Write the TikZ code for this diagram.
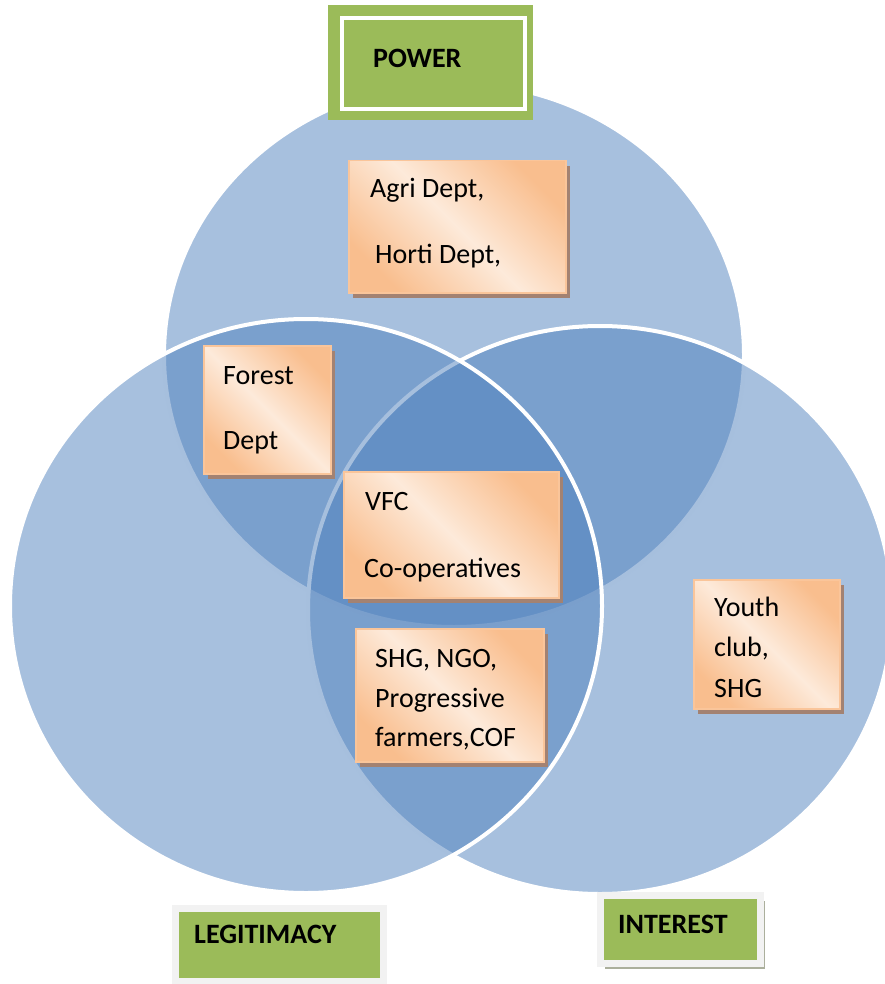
\documentclass[tikz,border=0pt]{standalone}
\usepackage{fontspec}
\setmainfont{Carlito}
\usetikzlibrary{shadows}
\definecolor{vblue}{HTML}{4F81BD}
\definecolor{ggreen}{HTML}{9BBB59}
\definecolor{gframe}{HTML}{F2F2F2}
\definecolor{oorange}{HTML}{F9BE8E}
\definecolor{olight}{HTML}{FDEADA}
\definecolor{oborder}{HTML}{FAC59A}
\definecolor{sbrown}{HTML}{A38272}
\definecolor{sgreen}{HTML}{ABAF9C}
\begin{document}
\begin{tikzpicture}[x=1pt,y=-1pt,
  venn/.style={fill=vblue, fill opacity=0.5, draw=white, draw opacity=1, line width=4pt},
  obox/.style={draw=oborder, line width=1.5pt, top color=oorange, bottom color=oorange, middle color=olight, shading angle=-45, anchor=north west, inner sep=0pt,
    drop shadow={shadow xshift=4pt, shadow yshift=-5pt, fill=sbrown, opacity=1}},
  gbox/.style={fill=ggreen, draw=gframe, line width=7pt, anchor=north west, inner sep=0pt,
    drop shadow={shadow xshift=4pt, shadow yshift=-5pt, fill=sgreen, opacity=1}},
  lbl/.style={font=\fontsize{28}{34}\selectfont, inner sep=0pt, anchor=base west, text=black},
  ttl/.style={font=\bfseries\fontsize{28}{34}\selectfont, inner sep=0pt, anchor=base west, text=black}
]
\useasboundingbox (0,0) rectangle (885,984);
% Venn ellipses
\path[venn] (454,355) ellipse [x radius=290, y radius=272];
\path[venn] (600,610) ellipse [x radius=292, y radius=284];
\path[venn] (306,606) ellipse [x radius=296, y radius=287];

% POWER
\node[fill=ggreen, anchor=north west, inner sep=0pt, minimum width=205pt, minimum height=115pt] (power) at (328,5) {};
\node[draw=white, line width=4.4pt, anchor=north west, inner sep=0pt, minimum width=183.5pt, minimum height=91pt] (powerframe) at (339.5,16) {};
\node[ttl] (powert) at (373,68) {POWER};

% LEGITIMACY
\node[gbox, minimum width=208pt, minimum height=73pt] (legit) at (171.5,904.5) {};
\node[ttl] (legitt) at (194,943) {LEGITIMACY};

% INTEREST
\node[gbox, minimum width=160pt, minimum height=68pt] (inter) at (597,892) {};
\node[ttl] (intert) at (618,933) {INTEREST};

% Agri / Horti
\node[obox, minimum width=217pt, minimum height=132pt] (agri) at (348,160) {};
\node[lbl] (agri1) at (370,198) {Agri Dept,};
\node[lbl] (agri2) at (375,263) {Horti Dept,};

% Forest
\node[obox, minimum width=127pt, minimum height=128pt] (forest) at (203,345) {};
\node[lbl] (forest1) at (223,384) {Forest};
\node[lbl] (forest2) at (223,449) {Dept};

% VFC
\node[obox, minimum width=215pt, minimum height=126pt] (vfc) at (343,471) {};
\node[lbl] (vfc1) at (365,510) {VFC};
\node[lbl] (vfc2) at (364,577) {Co-operatives};

% SHG NGO
\node[obox, minimum width=188pt, minimum height=133pt] (shg) at (355,628) {};
\node[lbl] (shg1) at (375,667) {SHG, NGO,};
\node[lbl] (shg2) at (375,707) {Progressive};
\node[lbl] (shg3) at (375,746) {farmers,COF};

% Youth
\node[obox, minimum width=146pt, minimum height=129pt] (youth) at (693,579) {};
\node[lbl] (youth1) at (714,616) {Youth};
\node[lbl] (youth2) at (714,656) {club,};
\node[lbl] (youth3) at (714,697) {SHG};
\end{tikzpicture}
\end{document}
